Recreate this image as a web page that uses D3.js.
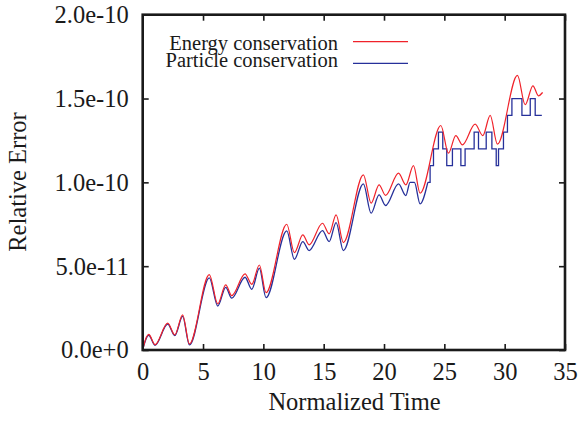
<!DOCTYPE html>
<html>
<head>
<meta charset="utf-8">
<script src="https://cdn.jsdelivr.net/npm/d3@7"></script>
<style>
  html, body { margin: 0; padding: 0; background: #fff; }
  svg { display: block; }
  text { font-family: "Liberation Serif", "Times New Roman", serif; fill: #1a1a1a; }
</style>
</head>
<body>
<svg id="chart" width="581" height="421"></svg>
<script>
// ---- data (values in units of 1e-10) ----
const UNIT = 1e-10;
const energyT = [0, 0.1, 0.5, 1.02, 2.07, 2.66, 3.31, 3.87, 5.52, 6.22, 6.88, 7.38, 8.48, 9.04, 9.67, 10.22,
  11.94, 12.57, 13.27, 13.79, 14.9, 15.45, 16.03, 16.63, 18.29, 18.93, 19.59, 20.13, 21.2, 21.81, 22.44, 22.99,
  24.71, 25.34, 25.95, 26.5, 27.55, 28.19, 28.8, 29.4, 31.06, 31.7, 32.34, 32.8, 33.14];
const energyV = [0.0, 0.03, 0.093, 0.032, 0.16, 0.09, 0.209, 0.036, 0.45, 0.275, 0.388, 0.324, 0.454, 0.392, 0.507, 0.342,
  0.75, 0.581, 0.687, 0.627, 0.756, 0.693, 0.806, 0.641, 1.045, 0.876, 0.985, 0.922, 1.055, 0.985, 1.1, 0.935,
  1.339, 1.174, 1.279, 1.224, 1.347, 1.279, 1.399, 1.228, 1.638, 1.463, 1.576, 1.516, 1.536];

// particle conservation: smooth part, then quantised (step) part
const particleT = [0, 0.1, 0.5, 1.02, 2.07, 2.66, 3.31, 3.87, 5.52, 6.22, 6.88, 7.38, 8.48, 9.04, 9.67, 10.22,
  11.94, 12.57, 13.27, 13.79, 14.9, 15.45, 16.03, 16.63, 18.29, 18.93, 19.59, 20.13, 21.2, 21.81, 22.16, 22.52, 22.99, 23.63];
const particleV = [0.0, 0.028, 0.088, 0.028, 0.155, 0.086, 0.2, 0.03, 0.43, 0.262, 0.374, 0.309, 0.434, 0.362, 0.488, 0.312,
  0.71, 0.541, 0.647, 0.593, 0.712, 0.647, 0.76, 0.593, 0.991, 0.816, 0.925, 0.862, 0.991, 0.921, 1.0, 1.0, 0.872, 1.0];
const particleStepT = [23.63, 23.82, 24.1, 24.51, 24.87, 25.2, 25.67, 26.37, 26.72, 27.47, 27.83, 28.47, 28.94,
  29.3, 29.49, 29.9, 30.23, 30.6, 31.43, 32.12, 32.53, 33.08];
const particleStepV = [1.0, 1.1, 1.2, 1.3, 1.2, 1.1, 1.2, 1.1, 1.2, 1.3, 1.2, 1.3, 1.2,
  1.1, 1.2, 1.3, 1.4, 1.5, 1.4, 1.5, 1.4, 1.4];

const xTicks = [0, 5, 10, 15, 20, 25, 30, 35];
const yTicks = [0, 0.5, 1.0, 1.5, 2.0];
const yTickLabels = ["0.0e+0", "5.0e-11", "1.0e-10", "1.5e-10", "2.0e-10"];
const seriesNames = ["Energy conservation", "Particle conservation"];
const seriesColors = ["#f0222a", "#26309a"];

// ---- layout ----
const svg = d3.select("#chart");
const pLeft = 142.7, pRight = 565, pTop = 14.7, pBottom = 350;
const x = d3.scaleLinear().domain([0, 35]).range([pLeft, pRight]);
const y = d3.scaleLinear().domain([0, 2.0 * UNIT]).range([pBottom, pTop]);

const toPts = (ts, vs) => ts.map((t, i) => [t, vs[i] * UNIT]);
const energy = toPts(energyT, energyV);
const particle = toPts(particleT, particleV);
const particleStep = toPts(particleStepT, particleStepV);

const lineSmooth = d3.line().x(d => x(d[0])).y(d => y(d[1])).curve(d3.curveMonotoneX);
const lineStep = d3.line().x(d => x(d[0])).y(d => y(d[1])).curve(d3.curveStepAfter);

svg.append("clipPath").attr("id", "clip").append("rect")
  .attr("x", pLeft).attr("y", pTop).attr("width", pRight - pLeft).attr("height", pBottom - pTop);

const g = svg.append("g").attr("clip-path", "url(#clip)");
g.append("path").attr("d", lineSmooth(particle))
  .attr("fill", "none").attr("stroke", seriesColors[1]).attr("stroke-width", 1.3);
g.append("path").attr("d", lineStep(particleStep))
  .attr("fill", "none").attr("stroke", seriesColors[1]).attr("stroke-width", 1.3);
g.append("path").attr("d", lineSmooth(energy))
  .attr("fill", "none").attr("stroke", seriesColors[0]).attr("stroke-width", 1.2);

// axes (gnuplot style: inward, mirrored ticks)
const tickLen = 6;
const fontSize = 24.5;
const axBottom = d3.axisBottom(x).tickValues(xTicks).tickSizeInner(-tickLen).tickSizeOuter(0).tickPadding(12.5);
const axTop = d3.axisTop(x).tickValues(xTicks).tickSizeInner(-tickLen).tickSizeOuter(0).tickFormat("");
const axLeft = d3.axisLeft(y).tickValues(yTicks.map(v => v * UNIT)).tickSizeInner(-tickLen).tickSizeOuter(0)
  .tickPadding(14).tickFormat((d, i) => yTickLabels[i]);
const axRight = d3.axisRight(y).tickValues(yTicks.map(v => v * UNIT)).tickSizeInner(-tickLen).tickSizeOuter(0).tickFormat("");

function styleAxis(sel) {
  sel.select(".domain").remove();
  sel.selectAll(".tick line").attr("stroke", "#1a1a1a").attr("stroke-width", 1.6);
  sel.selectAll(".tick text").attr("font-family", "Liberation Serif, serif").attr("font-size", fontSize).attr("fill", "#1a1a1a");
}
svg.append("g").attr("transform", `translate(0,${pBottom})`).call(axBottom).call(styleAxis);
svg.append("g").attr("transform", `translate(0,${pTop})`).call(axTop).call(styleAxis);
svg.append("g").attr("transform", `translate(${pLeft},0)`).call(axLeft).call(styleAxis);
svg.append("g").attr("transform", `translate(${pRight},0)`).call(axRight).call(styleAxis);

svg.append("rect").attr("x", pLeft).attr("y", pTop).attr("width", pRight - pLeft).attr("height", pBottom - pTop)
  .attr("fill", "none").attr("stroke", "#1a1a1a").attr("stroke-width", 2.6);

svg.append("text").attr("x", 354.5).attr("y", 410)
  .attr("text-anchor", "middle").attr("font-size", fontSize).text("Normalized Time");
svg.append("text").attr("transform", "translate(26,182) rotate(-90)")
  .attr("text-anchor", "middle").attr("font-size", fontSize).text("Relative Error");

const legY = [49.5, 66.5];
const legLineY = [41.7, 63.3];
seriesNames.forEach((name, i) => {
  svg.append("text").attr("x", 338).attr("y", legY[i]).attr("text-anchor", "end")
    .attr("font-size", 20.5).text(name);
  svg.append("line").attr("x1", 353).attr("x2", 408).attr("y1", legLineY[i]).attr("y2", legLineY[i])
    .attr("stroke", seriesColors[i]).attr("stroke-width", 1.3);
});
</script>
</body>
</html>
